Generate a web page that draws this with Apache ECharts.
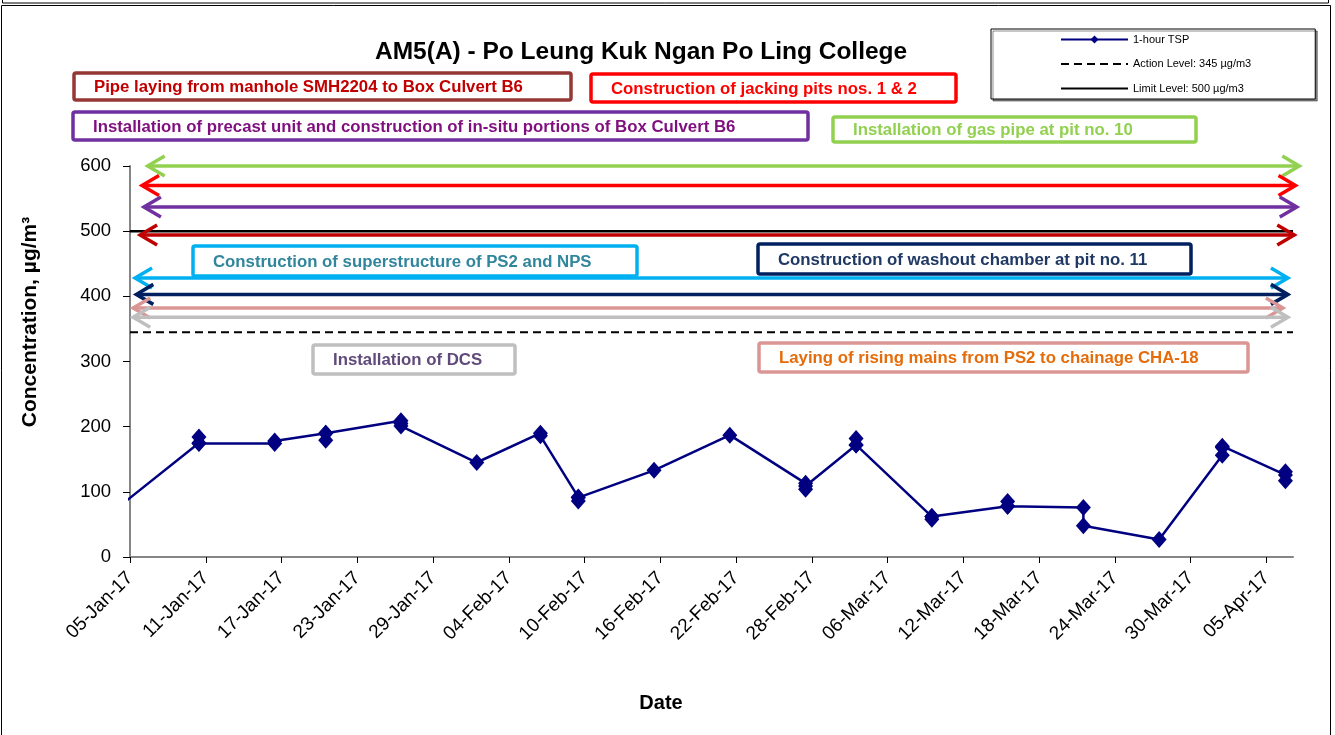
<!DOCTYPE html>
<html><head><meta charset="utf-8">
<script src="https://cdn.jsdelivr.net/npm/echarts@6/dist/echarts.min.js"></script>
<style>html,body{margin:0;padding:0;background:#fff}#chart{width:1335px;height:735px}</style>
</head><body><div id="chart"></div>
<script>
// ---------- data ----------
const baseDate = '2017-01-05';
const tickDates = ['2017-01-05','2017-01-11','2017-01-17','2017-01-23','2017-01-29','2017-02-04','2017-02-10','2017-02-16','2017-02-22','2017-02-28','2017-03-06','2017-03-12','2017-03-18','2017-03-24','2017-03-30','2017-04-05'];
const sampleTimes = ['2017-01-04 12:00','2017-01-10 11:00','2017-01-16 11:00','2017-01-20 12:00','2017-01-26 11:00','2017-02-01 11:00','2017-02-06 12:00','2017-02-09 12:00','2017-02-15 12:00','2017-02-21 12:00','2017-02-27 12:00','2017-03-03 12:00','2017-03-09 12:00','2017-03-15 12:00','2017-03-21 12:00','2017-03-27 12:00','2017-04-01 12:00','2017-04-06 12:00'];
const tspReadings = [[83],[175,184,174],[174,178],[190,179,190],[209,205,201],[145],[190,186],[92,86,91],[133],[187],[113,104,109],[172,182,172],[62,58,62],[78,85,78],[76,48],[27],[156,170,168],[126,131,117]];
const actionLevel = 345;
const limitLevel = 500;
// construction-activity arrows: level (µg/m3) and start/end (days after base date)
const arrowLevels = [600, 570, 537, 494, 428, 403, 382, 368];
const arrowStartDays = [1.4, 0.95, 1.1, 0.8, 0.4, 0.5, 0.25, 0.25];
const arrowEndDays = [92.6, 92.3, 92.4, 92.2, 91.7, 91.7, 91.3, 91.7];
const activityLabels = [
  'Pipe laying from manhole SMH2204 to Box Culvert B6',
  'Construction of jacking pits nos. 1 & 2',
  'Installation of precast unit and construction of in-situ portions of Box Culvert B6',
  'Installation of gas pipe at pit no. 10',
  'Construction of superstructure of PS2 and NPS',
  'Construction of washout chamber at pit no. 11',
  'Installation of DCS',
  'Laying of rising mains from PS2 to chainage CHA-18'
];

// ---------- styles / layout ----------
const FONT = '"Liberation Sans", Arial, sans-serif';
const arrowColors = ['#92D050','#FF0000','#7030A0','#C00000','#00B0F0','#002060','#DA9694','#BFBFBF'];
const boxLayout = [
  {x:74, y:73, w:497, h:27, stroke:'#953735', text:'#C00000'},
  {x:591, y:74, w:365, h:28, stroke:'#FF0000', text:'#FF0000'},
  {x:73, y:112, w:735, h:28, stroke:'#7030A0', text:'#7F0F7E'},
  {x:833, y:117, w:363, h:25, stroke:'#92D050', text:'#92D050'},
  {x:193, y:246, w:444, h:30, stroke:'#00B0F0', text:'#31859C'},
  {x:758, y:244, w:433, h:30, stroke:'#002060', text:'#1F3864'},
  {x:313, y:345, w:202, h:29, stroke:'#BFBFBF', text:'#604A7B'},
  {x:759, y:343, w:489, h:29, stroke:'#DA9694', text:'#E46C0A'}
];
const axisMaxDay = 92.1;

const DAY = 86400000;
const base = new Date(baseDate + 'T00:00:00Z').getTime();
function parseDay(s){
  const p = s.split(/[- :]/).map(Number);
  return (Date.UTC(p[0], p[1]-1, p[2], p[3]||0, p[4]||0) - base) / DAY;
}
const MONTHS = ['Jan','Feb','Mar','Apr','May','Jun','Jul','Aug','Sep','Oct','Nov','Dec'];
function fmtDay(d){
  const t = new Date(base + Math.round(d) * DAY);
  const dd = String(t.getUTCDate()).padStart(2,'0');
  return dd + '-' + MONTHS[t.getUTCMonth()] + '-' + String(t.getUTCFullYear()).slice(2);
}
const tickDays = tickDates.map(parseDay);
const tspData = [];
sampleTimes.forEach((s, i) => {
  const d = parseDay(s);
  tspReadings[i].forEach(v => tspData.push([d, v]));
});

const graphics = [
  {type:'rect', shape:{x:2.5, y:-20, width:1326, height:23}, style:{fill:'none', stroke:'#000', lineWidth:1}, silent:true},
  {type:'rect', shape:{x:1.5, y:5.5, width:1329, height:760}, style:{fill:'none', stroke:'#000', lineWidth:1}, silent:true},
  {type:'text', x:30, y:322, rotation:Math.PI/2, style:{text:'Concentration, µg/m³', font:'bold 21px ' + FONT, fill:'#000', textAlign:'center', textVerticalAlign:'middle'}, silent:true},
  {type:'text', x:661, y:703, style:{text:'Date', font:'bold 20px ' + FONT, fill:'#000', textAlign:'center', textVerticalAlign:'middle'}, silent:true}
];
activityLabels.forEach((t, i) => {
  const b = boxLayout[i];
  graphics.push({type:'rect', z:10, shape:{x:b.x, y:b.y, width:b.w, height:b.h, r:2}, style:{fill:'#fff', stroke:b.stroke, lineWidth:3.5}, silent:true});
  graphics.push({type:'text', z:11, x:b.x + 20, y:b.y + b.h/2 + 1, style:{text:t, font:'bold 16.8px ' + FONT, fill:b.text, textVerticalAlign:'middle'}, silent:true});
});

const chart = echarts.init(document.getElementById('chart'), null, {renderer:'canvas'});
chart.setOption({
  animation:false,
  backgroundColor:'#fff',
  title:{text:'AM5(A) - Po Leung Kuk Ngan Po Ling College', left:375, top:40, padding:0,
    textStyle:{fontFamily:FONT, fontWeight:'bold', fontSize:24.5, color:'#000'}},
  legend:{
    data:[
      {name:'1-hour TSP'},
      {name:'Action Level: 345 µg/m3', itemStyle:{opacity:0}},
      {name:'Limit Level: 500 µg/m3', itemStyle:{opacity:0}}
    ],
    orient:'vertical', left:991, top:29, padding:[5,64,5,69],
    itemWidth:67, itemHeight:10, itemGap:13.5, itemTextGap:6,
    backgroundColor:'#fff', borderColor:'#000', borderWidth:1,
    shadowColor:'rgba(0,0,0,0.45)', shadowOffsetX:2, shadowOffsetY:2, shadowBlur:0,
    textStyle:{fontFamily:FONT, fontSize:11, color:'#000'},
    selectedMode:false
  },
  grid:{left:130, right:42, top:166, bottom:178, containLabel:false},
  xAxis:{
    type:'value', min:0, max:axisMaxDay, interval:6,
    axisLine:{lineStyle:{color:'#868686', width:2}},
    axisTick:{customValues:tickDays, length:6, lineStyle:{color:'#000', width:1}},
    axisLabel:{customValues:tickDays, rotate:45, margin:18, fontSize:19, fontFamily:FONT, color:'#000',
      formatter: v => (Math.abs(v - Math.round(v)) < 1e-6 && Math.round(v) % 6 === 0) ? fmtDay(v) : ''},
    splitLine:{show:false}
  },
  yAxis:{
    type:'value', min:0, max:600, interval:100,
    axisLine:{show:true, lineStyle:{color:'#868686', width:2}},
    axisTick:{show:true, length:7, lineStyle:{color:'#000', width:1}},
    axisLabel:{margin:19, fontSize:18.5, fontFamily:FONT, color:'#000'},
    splitLine:{show:false}
  },
  graphic:graphics,
  series:[
    {
      name:'Action Level: 345 µg/m3', type:'line', symbol:'none', z:3,
      data:[[0, actionLevel],[axisMaxDay, actionLevel]],
      lineStyle:{color:'#000', width:2, type:[8,5]}, itemStyle:{color:'rgba(0,0,0,0)', borderWidth:0}
    },
    {
      name:'Limit Level: 500 µg/m3', type:'line', symbol:'none', z:3,
      data:[[0, limitLevel],[axisMaxDay, limitLevel]],
      lineStyle:{color:'#000', width:2.5}, itemStyle:{color:'rgba(0,0,0,0)', borderWidth:0}
    },
    {
      name:'arrows', type:'custom', coordinateSystem:'cartesian2d', clip:false, silent:true, z:4,
      data: arrowLevels.map((v, i) => [arrowStartDays[i], v, arrowEndDays[i]]),
      encode:{x:[0,2], y:1},
      renderItem(params, api){
        const i = params.dataIndex;
        const a = api.coord([api.value(0), api.value(1)]);
        const b = api.coord([api.value(2), api.value(1)]);
        const c = arrowColors[i];
        const L = 17, H = 10;
        const st = {stroke:c, lineWidth:3.5, fill:null, lineJoin:'miter'};
        return {type:'group', children:[
          {type:'line', shape:{x1:a[0]+1, y1:a[1], x2:b[0]-1, y2:b[1]}, style:{stroke:c, lineWidth:3.5}},
          {type:'polyline', shape:{points:[[a[0]+L, a[1]-H],[a[0], a[1]],[a[0]+L, a[1]+H]]}, style:st},
          {type:'polyline', shape:{points:[[b[0]-L, b[1]-H],[b[0], b[1]],[b[0]-L, b[1]+H]]}, style:st}
        ]};
      }
    },
    {
      name:'1-hour TSP', type:'line', z:6, clip:true,
      data:tspData, showAllSymbol:true,
      symbol:'diamond', symbolSize:[15,17],
      lineStyle:{color:'#000080', width:2.5},
      itemStyle:{color:'#000080'}
    }
  ]
});
</script>
</body></html>
